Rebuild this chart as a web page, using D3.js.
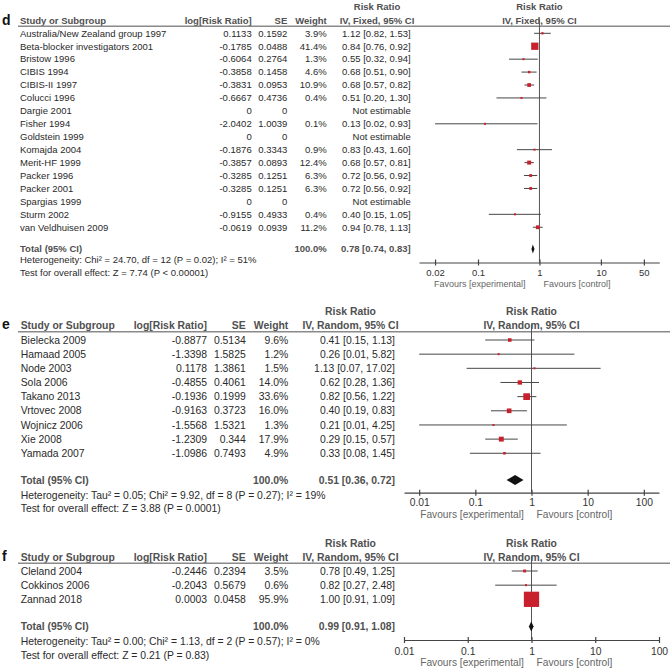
<!DOCTYPE html>
<html><head><meta charset="utf-8">
<script src="https://cdn.jsdelivr.net/npm/d3@7"></script>
<style>
body{margin:0;background:#fff}
svg{display:block}
text{font-family:"Liberation Sans",Arial,Helvetica,sans-serif}
</style>
</head><body>
<svg id="chart" width="671" height="668"></svg>
<script>
// ---------------- DATA ----------------
// Panel d
const dStudies = ["Australia/New Zealand group 1997","Beta-blocker investigators 2001","Bristow 1996","CIBIS 1994","CIBIS-II 1997","Colucci 1996","Dargie 2001","Fisher 1994","Goldstein 1999","Komajda 2004","Merit-HF 1999","Packer 1996","Packer 2001","Spargias 1999","Sturm 2002","van Veldhuisen 2009"];
const dLogRR = ["0.1133","-0.1785","-0.6064","-0.3858","-0.3831","-0.6667","0","-2.0402","0","-0.1876","-0.3857","-0.3285","-0.3285","0","-0.9155","-0.0619"];
const dSE = ["0.1592","0.0488","0.2764","0.1458","0.0953","0.4736","0","1.0039","0","0.3343","0.0893","0.1251","0.1251","0","0.4933","0.0939"];
const dWeight = [3.9,41.4,1.3,4.6,10.9,0.4,null,0.1,null,0.9,12.4,6.3,6.3,null,0.4,11.2];
const dRR = [1.12,0.84,0.55,0.68,0.68,0.51,null,0.13,null,0.83,0.68,0.72,0.72,null,0.40,0.94];
const dLo = [0.82,0.76,0.32,0.51,0.57,0.20,null,0.02,null,0.43,0.57,0.56,0.56,null,0.15,0.78];
const dHi = [1.53,0.92,0.94,0.90,0.82,1.30,null,0.93,null,1.60,0.81,0.92,0.92,null,1.05,1.13];
const dTotal = [0.78,0.74,0.83];
const dHet = "Heterogeneity: Chi² = 24.70, df = 12 (P = 0.02); I² = 51%";
const dTest = "Test for overall effect: Z = 7.74 (P < 0.00001)";
const dTicks = [0.02,0.1,1,10,50];

// Panel e
const eStudies = ["Bielecka 2009","Hamaad 2005","Node 2003","Sola 2006","Takano 2013","Vrtovec 2008","Wojnicz 2006","Xie 2008","Yamada 2007"];
const eLogRR = ["-0.8877","-1.3398","0.1178","-0.4855","-0.1936","-0.9163","-1.5568","-1.2309","-1.0986"];
const eSE = ["0.5134","1.5825","1.3861","0.4061","0.1999","0.3723","1.5321","0.344","0.7493"];
const eWeight = [9.6,1.2,1.5,14.0,33.6,16.0,1.3,17.9,4.9];
const eRR = [0.41,0.26,1.13,0.62,0.82,0.40,0.21,0.29,0.33];
const eLo = [0.15,0.01,0.07,0.28,0.56,0.19,0.01,0.15,0.08];
const eHi = [1.13,5.82,17.02,1.36,1.22,0.83,4.25,0.57,1.45];
const eTotal = [0.51,0.36,0.72];
const eHet = "Heterogeneity: Tau² = 0.05; Chi² = 9.92, df = 8 (P = 0.27); I² = 19%";
const eTest = "Test for overall effect: Z = 3.88 (P = 0.0001)";
const eTicks = [0.01,0.1,1,10,100];

// Panel f
const fStudies = ["Cleland 2004","Cokkinos 2006","Zannad 2018"];
const fLogRR = ["-0.2446","-0.2043","0.0003"];
const fSE = ["0.2394","0.5679","0.0458"];
const fWeight = [3.5,0.6,95.9];
const fRR = [0.78,0.82,1.00];
const fLo = [0.49,0.27,0.91];
const fHi = [1.25,2.48,1.09];
const fTotal = [0.99,0.91,1.08];
const fHet = "Heterogeneity: Tau² = 0.00; Chi² = 1.13, df = 2 (P = 0.57); I² = 0%";
const fTest = "Test for overall effect: Z = 0.21 (P = 0.83)";
const fTicks = [0.01,0.1,1,10,100];

// ---------------- DRAWING ----------------
const svg = d3.select("#chart");
const f2 = d3.format(".2f");
const RED = "#c8202c";

function drawPanel(p) {
  const g = svg.append("g");
  const fs = p.fs;
  const txt = (x, y, s, o = {}) => g.append("text")
      .attr("x", x).attr("y", y).attr("dy", "0.35em")
      .attr("text-anchor", o.anchor || "start")
      .attr("font-size", (o.size || fs) + "px")
      .attr("font-weight", o.bold ? "bold" : "normal")
      .attr("fill", o.fill || "#2a2a2a")
      .text(s);
  const HEAD = "#505050";

  // x scale (log) for the forest plot
  const x = d3.scaleLog().domain(p.domain).range([p.axL, p.axR]);
  const rowY = d3.scaleLinear().domain([0, 1]).range([p.row0, p.row0 + p.step]);

  // panel letter
  txt(2, p.headY2 - 1, p.letter, {bold: true, size: p.letterSize, fill: "#111"});

  // headers
  txt(p.studyX, p.headY2, "Study or Subgroup", {bold: true, fill: HEAD});
  txt(p.cLog, p.headY2, "log[Risk Ratio]", {bold: true, fill: HEAD, anchor: "end"});
  txt(p.cSE, p.headY2, "SE", {bold: true, fill: HEAD, anchor: "end"});
  txt(p.cW, p.headY2, "Weight", {bold: true, fill: HEAD, anchor: "end"});
  txt(p.cRRmid, p.headY1, "Risk Ratio", {bold: true, fill: HEAD, anchor: "middle"});
  txt(p.cRRmid, p.headY2, p.method, {bold: true, fill: HEAD, anchor: "middle"});
  txt(x(1), p.headY1, "Risk Ratio", {bold: true, fill: HEAD, anchor: "middle"});
  txt(x(1), p.headY2, p.method, {bold: true, fill: HEAD, anchor: "middle"});

  // header rule
  g.append("line").attr("x1", 18).attr("x2", 670)
    .attr("y1", p.lineY).attr("y2", p.lineY)
    .attr("stroke", "#8a8a8a").attr("stroke-width", 1.4);

  // null line
  g.append("line").attr("x1", x(1)).attr("x2", x(1))
    .attr("y1", p.lineY - 7).attr("y2", p.axisY)
    .attr("stroke", "#555").attr("stroke-width", 1);

  // rows
  const size = d3.scaleSqrt().domain([0, 100]).range([0, p.boxMax]);
  p.studies.forEach((s, i) => {
    const y = rowY(i);
    txt(p.studyX, y, s);
    txt(p.cLog, y, p.logrr[i], {anchor: "end"});
    txt(p.cSE, y, p.se[i], {anchor: "end"});
    if (p.weight[i] != null) txt(p.cW, y, d3.format(".1f")(p.weight[i]) + "%", {anchor: "end"});
    if (p.rr[i] == null) {
      txt(p.cRR, y, "Not estimable", {anchor: "end"});
      return;
    }
    txt(p.cRR, y, `${f2(p.rr[i])} [${f2(p.lo[i])}, ${f2(p.hi[i])}]`, {anchor: "end"});
    g.append("line").attr("x1", x(p.lo[i])).attr("x2", x(p.hi[i]))
      .attr("y1", y).attr("y2", y).attr("stroke", "#474747").attr("stroke-width", 1);
    const b = Math.max(2, size(p.weight[i]));
    g.append("rect").attr("x", x(p.rr[i]) - b / 2).attr("y", y - b / 2)
      .attr("width", b).attr("height", b).attr("fill", RED);
  });

  // total
  txt(p.studyX, p.totalY, "Total (95% CI)", {bold: true, fill: HEAD});
  txt(p.cW, p.totalY, "100.0%", {bold: true, fill: HEAD, anchor: "end"});
  txt(p.cRR, p.totalY, `${f2(p.total[0])} [${f2(p.total[1])}, ${f2(p.total[2])}]`, {bold: true, fill: HEAD, anchor: "end"});
  const dh = p.diamondH / 2;
  g.append("path")
    .attr("d", `M${x(p.total[1])},${p.totalY}L${x(p.total[0])},${p.totalY - dh}L${x(p.total[2])},${p.totalY}L${x(p.total[0])},${p.totalY + dh}Z`)
    .attr("fill", "#111");

  txt(p.studyX, p.hetY, p.het);
  txt(p.studyX, p.testY, p.test);

  // axis
  const axis = d3.axisBottom(x).tickValues(p.ticks)
    .tickFormat(d3.format("~g")).tickSizeInner(3).tickSizeOuter(0).tickPadding(3);
  const ax = g.append("g").attr("transform", `translate(0,${p.axisY})`).call(axis);
  ax.select(".domain").attr("stroke", "#444").attr("stroke-width", 1.2);
  ax.selectAll(".tick line").attr("y1", -3).attr("y2", 3).attr("stroke", "#444").attr("stroke-width", 1.2);
  ax.selectAll(".tick text").attr("y", p.tickLabY - p.axisY).attr("dy", "0.35em")
    .attr("font-size", p.tickFs + "px").attr("fill", "#333")
    .attr("font-family", '"Liberation Sans",Arial,sans-serif');

  txt(x(1) - p.favGapL, p.favY, "Favours [experimental]", {anchor: "end", size: p.favFs, fill: "#666"});
  txt(x(1) + p.favGapR, p.favY, "Favours [control]", {size: p.favFs, fill: "#666"});
}

drawPanel({
  letter: "d", letterSize: 14, fs: 9.5, tickFs: 9.5, favFs: 9, method: "IV, Fixed, 95% CI",
  studies: dStudies, logrr: dLogRR, se: dSE, weight: dWeight, rr: dRR, lo: dLo, hi: dHi,
  total: dTotal, het: dHet, test: dTest, ticks: dTicks,
  studyX: 20, cLog: 251.7, cSE: 287.3, cW: 326.7, cRR: 410.7, cRRmid: 377,
  domain: [Math.pow(10, -1.96), Math.pow(10, 1.95)], axL: 419, axR: 659.3,
  headY1: 7, headY2: 20.7, lineY: 26.3, row0: 33.3, step: 12.93,
  totalY: 249, hetY: 260, testY: 272.3, axisY: 262.5, tickLabY: 272.5, favY: 284,
  boxMax: 11.3, diamondH: 9, favGapL: 14, favGapR: 4
});
drawPanel({
  letter: "e", letterSize: 14, fs: 10.4, tickFs: 10.3, favFs: 10.2, method: "IV, Random, 95% CI",
  studies: eStudies, logrr: eLogRR, se: eSE, weight: eWeight, rr: eRR, lo: eLo, hi: eHi,
  total: eTotal, het: eHet, test: eTest, ticks: eTicks,
  studyX: 20.7, cLog: 207, cSE: 245.7, cW: 288.3, cRR: 395, cRRmid: 350.5,
  domain: [Math.pow(10, -2.27), Math.pow(10, 2.27)], axL: 404, axR: 659,
  headY1: 311.7, headY2: 325.5, lineY: 331.7, row0: 340, step: 14.16,
  totalY: 480, hetY: 495, testY: 508.3, axisY: 492.7, tickLabY: 502.5, favY: 514.3,
  boxMax: 11.6, diamondH: 10, favGapL: 7.7, favGapR: 5
});
drawPanel({
  letter: "f", letterSize: 14, fs: 10.4, tickFs: 10.3, favFs: 10.2, method: "IV, Random, 95% CI",
  studies: fStudies, logrr: fLogRR, se: fSE, weight: fWeight, rr: fRR, lo: fLo, hi: fHi,
  total: fTotal, het: fHet, test: fTest, ticks: fTicks,
  studyX: 20.7, cLog: 207, cSE: 245.7, cW: 288.3, cRR: 395, cRRmid: 350.5,
  domain: [0.01, 100], axL: 404, axR: 659,
  headY1: 543.3, headY2: 557.5, lineY: 563.3, row0: 571, step: 14.16,
  totalY: 626.5, hetY: 641.5, testY: 655, axisY: 640, tickLabY: 651, favY: 662,
  boxMax: 15.6, diamondH: 10, favGapL: 7.7, favGapR: 5
});
</script>
</body></html>
